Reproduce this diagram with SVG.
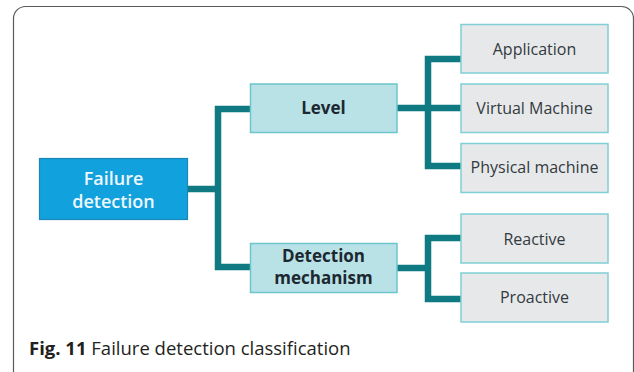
<svg xmlns="http://www.w3.org/2000/svg" width="634" height="372" viewBox="0 0 634 372">
  <style>
    .frame { fill: none; stroke: #5a5a5a; stroke-width: 1.2; }
    .link { fill: none; stroke: #0f7a81; stroke-width: 6.5; stroke-linejoin: miter; stroke-linecap: butt; }
    .root rect { fill: #11a1dd; stroke: #1b86b8; stroke-width: 1.2; }
    .root text { fill: #eef8fd; font-family: "Open Sans", "Noto Sans", sans-serif; font-weight: 600; font-size: 18px; text-anchor: middle; }
    .mid rect { fill: #b9e2e7; stroke: #6cc6cc; stroke-width: 1.5; }
    .mid text { fill: #1c2830; font-family: "Open Sans", "Noto Sans", sans-serif; font-weight: 700; font-size: 17px; text-anchor: middle; }
    .leaf rect { fill: #e7e8ea; stroke: #7fcfd4; stroke-width: 1.5; }
    .leaf text { fill: #333a40; font-family: "Open Sans", "Noto Sans", sans-serif; font-size: 16px; text-anchor: middle; }
    .caption { fill: #231f20; font-family: "Open Sans", "Noto Sans", sans-serif; font-size: 18.5px; }
  </style>

  <rect width="634" height="372" fill="#ffffff"/>

  <!-- figure frame, open at the bottom -->
  <path class="frame" d="M13.5,372 V18 A12,12 0 0 1 25.5,6.5 H621 A12,12 0 0 1 633.5,18 V372"/>

  <!-- connectors -->
  <g id="connectors">
    <path class="link" d="M187,189 H218"/>
    <path class="link" d="M250,109 H218 V267 H250"/>
    <path class="link" d="M397,108 H461"/>
    <path class="link" d="M461,59 H428 V166 H461"/>
    <path class="link" d="M397,268 H428"/>
    <path class="link" d="M461,238 H428 V299 H461"/>
  </g>

  <g id="node-failure-detection" class="root">
    <rect x="39.5" y="158.5" width="148" height="61"/>
    <text x="113.5" y="185">Failure</text>
    <text x="113.5" y="208">detection</text>
  </g>

  <g id="node-level" class="mid">
    <rect x="250.5" y="84" width="146.5" height="48.5"/>
    <text x="323.5" y="114">Level</text>
  </g>

  <g id="node-detection-mechanism" class="mid">
    <rect x="250.5" y="243.5" width="146.5" height="49"/>
    <text x="323.5" y="262">Detection</text>
    <text x="323.5" y="284">mechanism</text>
  </g>

  <g id="node-application" class="leaf">
    <rect x="461" y="24.5" width="147" height="48.5"/>
    <text x="534.5" y="55">Application</text>
  </g>

  <g id="node-virtual-machine" class="leaf">
    <rect x="461" y="84" width="147" height="48.5"/>
    <text x="534.5" y="113.5">Virtual Machine</text>
  </g>

  <g id="node-physical-machine" class="leaf">
    <rect x="461" y="143.5" width="147" height="49"/>
    <text x="534.5" y="172.5">Physical machine</text>
  </g>

  <g id="node-reactive" class="leaf">
    <rect x="461" y="214" width="147" height="49"/>
    <text x="534.5" y="245">Reactive</text>
  </g>

  <g id="node-proactive" class="leaf">
    <rect x="461" y="273" width="147" height="49"/>
    <text x="534.5" y="303">Proactive</text>
  </g>

  <text class="caption" x="29" y="355"><tspan font-weight="700">Fig. 11</tspan> Failure detection classification</text>
</svg>
